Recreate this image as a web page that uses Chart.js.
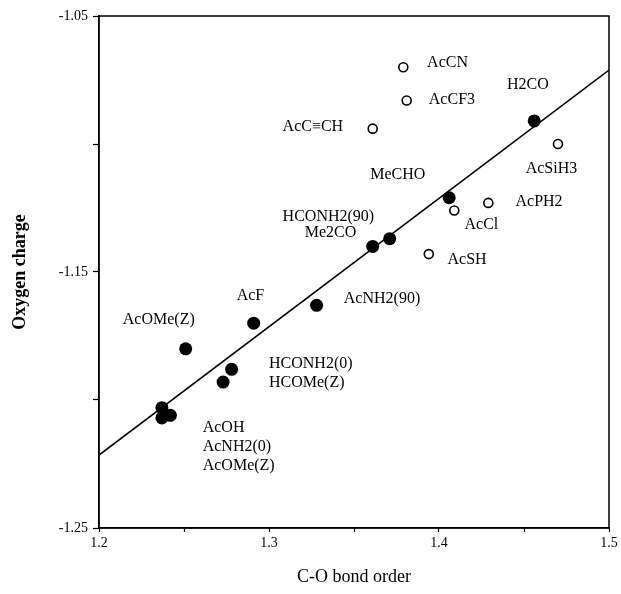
<!DOCTYPE html>
<html>
<head>
<meta charset="utf-8">
<script src="https://cdn.jsdelivr.net/npm/chart.js@4"></script>
<style>
  body { margin: 0; background: #fff; }
  #wrap { width: 621px; height: 594px; }
</style>
</head>
<body>
<div id="wrap"><canvas id="myChart" width="621" height="594"></canvas></div>
<script>
// filled circles
const filledX = [1.237, 1.242, 1.237, 1.251, 1.273, 1.278, 1.291, 1.328, 1.361, 1.371, 1.406, 1.456]
const filledY = [-1.203, -1.206, -1.207, -1.180, -1.193, -1.188, -1.170, -1.163, -1.140, -1.137, -1.121, -1.091]
// open circles
const openX = [1.379, 1.381, 1.361, 1.470, 1.409, 1.429, 1.394]
const openY = [-1.070, -1.083, -1.094, -1.100, -1.126, -1.123, -1.143]
// fitted line end points
const fitX = [1.2, 1.5]
const fitY = [-1.2215, -1.0711]
// text labels and where they sit (data units, left edge / middle)
const labelText = ['AcCN', 'AcCF3', 'AcC\u2261CH', 'H2CO', 'MeCHO', 'AcSiH3', 'AcPH2', 'AcCl', 'AcSH',
  'HCONH2(90)', 'Me2CO', 'AcNH2(90)', 'AcF', 'AcOMe(Z)', 'HCONH2(0)', 'HCOMe(Z)', 'AcOH', 'AcNH2(0)', 'AcOMe(Z)']
const labelX = [1.393, 1.394, 1.308, 1.440, 1.3595, 1.451, 1.445, 1.415, 1.405,
  1.308, 1.321, 1.344, 1.281, 1.214, 1.300, 1.300, 1.261, 1.261, 1.261]
const labelY = [-1.0684, -1.0828, -1.0934, -1.0770, -1.1121, -1.1098, -1.1227, -1.1316, -1.1453,
  -1.1285, -1.1348, -1.1605, -1.1594, -1.1688, -1.1859, -1.1934, -1.2109, -1.2184, -1.2258]

const SERIF = '"Liberation Serif", "DejaVu Serif", serif'

function toPoints(xs, ys) {
  return xs.map((x, i) => ({ x: x, y: ys[i] }))
}

// frame around the plot
const framePlugin = {
  id: 'frame',
  afterDraw(chart) {
    const a = chart.chartArea, ctx = chart.ctx
    ctx.save()
    ctx.strokeStyle = '#000'
    ctx.lineWidth = 1.5
    ctx.strokeRect(a.left, a.top, a.right - a.left, a.bottom - a.top)
    ctx.restore()
  }
}

// compound names
const labelPlugin = {
  id: 'labels',
  afterDatasetsDraw(chart) {
    const ctx = chart.ctx, sx = chart.scales.x, sy = chart.scales.y
    ctx.save()
    ctx.fillStyle = '#000'
    ctx.font = '16px ' + SERIF
    ctx.textAlign = 'left'
    ctx.textBaseline = 'middle'
    labelText.forEach((t, i) => {
      ctx.fillText(t, sx.getPixelForValue(labelX[i]), sy.getPixelForValue(labelY[i]))
    })
    ctx.restore()
  }
}

var ctx = document.getElementById('myChart').getContext('2d')
var chart = new Chart(ctx, {
  type: 'scatter',
  data: {
    datasets: [{
      type: 'line',
      data: toPoints(fitX, fitY),
      borderColor: '#000',
      borderWidth: 1.6,
      pointRadius: 0,
      fill: false
    }, {
      data: toPoints(filledX, filledY),
      backgroundColor: '#000',
      borderColor: '#000',
      pointRadius: 6.5,
      borderWidth: 0
    }, {
      data: toPoints(openX, openY),
      backgroundColor: '#fff',
      borderColor: '#000',
      pointRadius: 4.5,
      borderWidth: 1.6
    }]
  },
  options: {
    responsive: false,
    animation: false,
    layout: { padding: { top: 16, right: 12, left: 0, bottom: 0 } },
    plugins: { legend: { display: false }, tooltip: { enabled: false } },
    scales: {
      x: {
        type: 'linear',
        min: 1.2, max: 1.5,
        afterFit(s) { s.height = 66 },
        grid: { drawOnChartArea: false, drawTicks: true, tickLength: 4, tickColor: '#000', tickWidth: 1.2 },
        border: { display: true, color: '#000', width: 1.5 },
        ticks: {
          stepSize: 0.05, autoSkip: false, maxRotation: 0, padding: 3,
          color: '#000', font: { family: SERIF, size: 14 },
          callback: v => { const r = Math.round(v * 100); return r % 10 === 0 ? (r / 100).toFixed(1) : '' }
        },
        title: {
          display: true, text: 'C-O bond order', color: '#000',
          font: { family: SERIF, size: 18 }, padding: { top: 4, bottom: 6 }
        }
      },
      y: {
        type: 'linear',
        min: -1.25, max: -1.05,
        afterFit(s) { s.width = 99 },
        grid: { drawOnChartArea: false, drawTicks: true, tickLength: 6, tickColor: '#000', tickWidth: 1.2 },
        border: { display: true, color: '#000', width: 1.5 },
        ticks: {
          stepSize: 0.05, autoSkip: false, padding: 5,
          color: '#000', font: { family: SERIF, size: 14 },
          callback: v => { const r = Math.round(v * 100); return Math.abs(r % 10) === 5 ? (r / 100).toFixed(2) : '' }
        },
        title: {
          display: true, text: 'Oxygen charge', color: '#000',
          font: { family: SERIF, size: 18, weight: 'bold' }, padding: { top: 10, bottom: 4 }
        }
      }
    }
  },
  plugins: [framePlugin, labelPlugin]
})
</script>
</body>
</html>
